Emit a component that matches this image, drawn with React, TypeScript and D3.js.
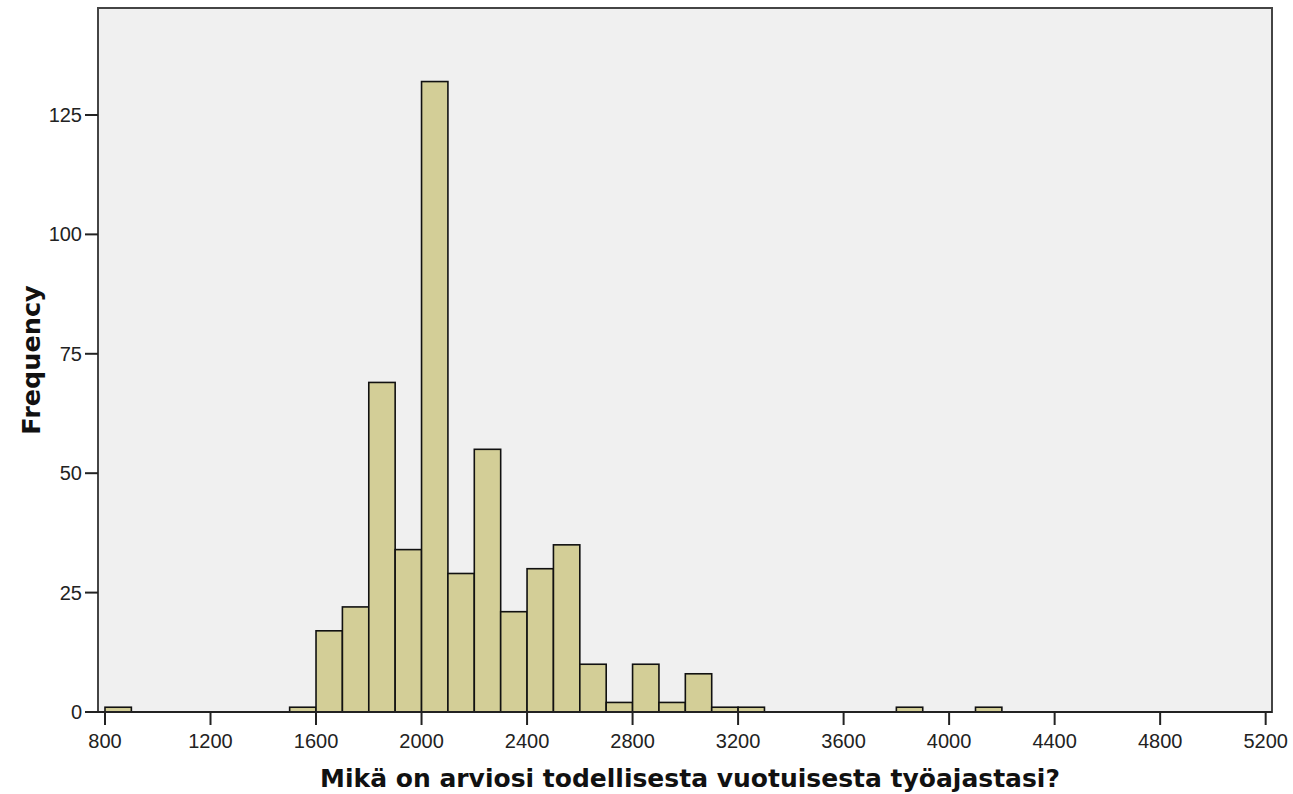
import React from "react";
import * as d3 from "d3";

const binStarts = [800, 1500, 1600, 1700, 1800, 1900, 2000, 2100, 2200, 2300, 2400, 2500, 2600, 2700, 2800, 2900, 3000, 3100, 3200, 3800, 4100];
const counts = [1, 1, 17, 22, 69, 34, 132, 29, 55, 21, 30, 35, 10, 2, 10, 2, 8, 1, 1, 1, 1];
const binWidth = 100;
const xTicks = [800, 1200, 1600, 2000, 2400, 2800, 3200, 3600, 4000, 4400, 4800, 5200];
const yTicks = [0, 25, 50, 75, 100, 125];
const xTitle = "Mikä on arviosi todellisesta vuotuisesta työajastasi?";
const yTitle = "Frequency";

const W = 1293;
const H = 794;
const plot = { left: 98, top: 8, right: 1272, bottom: 712 };

export default function App() {
  const x = d3.scaleLinear().domain([773.5, 5224]).range([plot.left, plot.right]);
  const y = d3.scaleLinear().domain([0, 147.4]).range([plot.bottom, plot.top]);
  const tickFont = "'Liberation Sans', Arial, sans-serif";
  const titleFont = "'DejaVu Sans', Verdana, sans-serif";
  return (
    <svg width={W} height={H} style={{ position: "absolute", left: 0, top: 0, background: "#fff" }}>
      <rect x={plot.left} y={plot.top} width={plot.right - plot.left} height={plot.bottom - plot.top} fill="#F0F0F0" stroke="#444" strokeWidth={2} />
      {binStarts.map((s, i) => (
        <rect key={i} x={x(s)} y={y(counts[i])} width={x(s + binWidth) - x(s)} height={y(0) - y(counts[i])}
          fill="#D3CE97" stroke="#111" strokeWidth={1.6} />
      ))}
      <line x1={plot.left} x2={plot.right} y1={y(0)} y2={y(0)} stroke="#222" strokeWidth={2} />
      {xTicks.map((t) => (
        <g key={t}>
          <line x1={x(t)} x2={x(t)} y1={plot.bottom} y2={plot.bottom + 13} stroke="#222" strokeWidth={2} />
          <text x={x(t)} y={plot.bottom + 36} textAnchor="middle" fontFamily={tickFont} fontSize={20} fill="#222">{t}</text>
        </g>
      ))}
      {yTicks.map((t) => (
        <g key={t}>
          <line x1={plot.left - 13} x2={plot.left} y1={y(t)} y2={y(t)} stroke="#222" strokeWidth={2} />
          <text x={plot.left - 16} y={y(t) + 7} textAnchor="end" fontFamily={tickFont} fontSize={20} fill="#222">{t}</text>
        </g>
      ))}
      <text x={690} y={787} textAnchor="middle" fontFamily={titleFont} fontWeight="bold" fontSize={25} fill="#111">{xTitle}</text>
      <text transform={`translate(40, ${(plot.top + plot.bottom) / 2}) rotate(-90)`} textAnchor="middle" fontFamily={titleFont} fontWeight="bold" fontSize={25.5} fill="#111">{yTitle}</text>
    </svg>
  );
}
